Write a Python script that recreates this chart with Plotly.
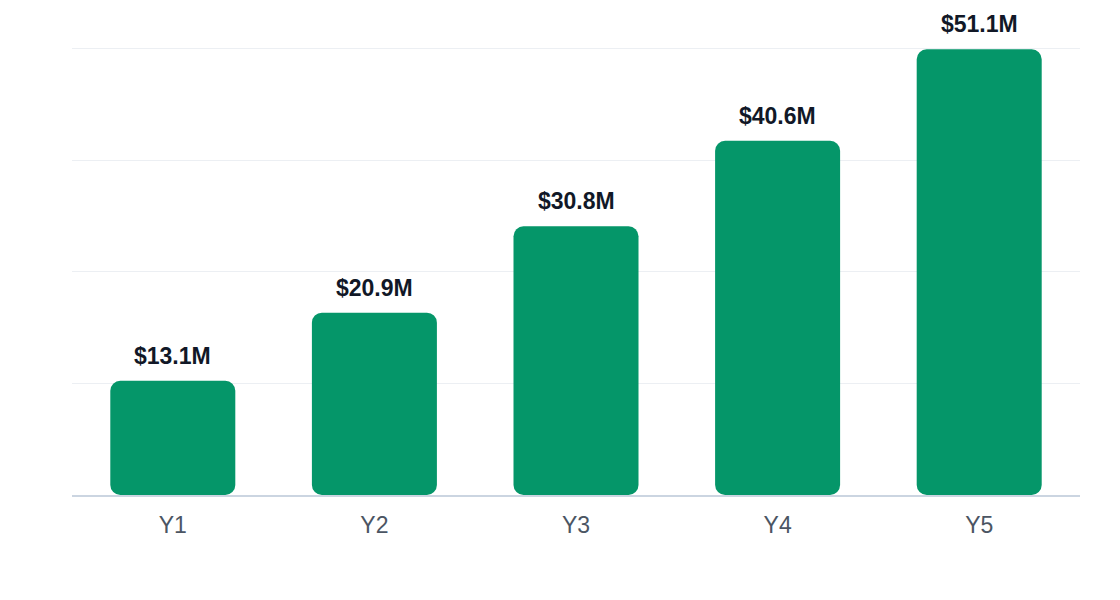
import plotly.graph_objects as go

categories = ["Y1", "Y2", "Y3", "Y4", "Y5"]
values = [13.1, 20.9, 30.8, 40.6, 51.1]
labels = ["$13.1M", "$20.9M", "$30.8M", "$40.6M", "$51.1M"]

BAR = "#059669"
ymax = 51.2

fig = go.Figure()
fig.add_trace(go.Bar(x=categories, y=values, base=[0] * len(values),
                     marker=dict(color=BAR, cornerradius=10, line=dict(width=0)),
                     hoverinfo="skip", showlegend=False))

for c, v, t in zip(categories, values, labels):
    fig.add_annotation(x=c, y=v, text=f"<b>{t}</b>", showarrow=False, yanchor="bottom", yshift=10,
                       font=dict(family="Liberation Sans, Arial, sans-serif", size=23, color="#111827"))

fig.update_layout(
    width=1112, height=592,
    margin=dict(l=64, r=40, t=39, b=105),
    paper_bgcolor="white", plot_bgcolor="white",
    bargap=0.38,
    font=dict(family="Liberation Sans, Arial, sans-serif"),
)
fig.update_xaxes(showgrid=False, showline=True, linecolor="#cbd5e1", linewidth=2,
                 tickfont=dict(size=23, color="#4b5563"), ticks="", ticklabelstandoff=8)
fig.update_yaxes(range=[0, ymax * 1.003], tickvals=[ymax * i / 4 for i in range(5)], showticklabels=False,
                 gridcolor="#eceff3", gridwidth=1, zeroline=False, showline=False)

fig.write_html("out.html")
